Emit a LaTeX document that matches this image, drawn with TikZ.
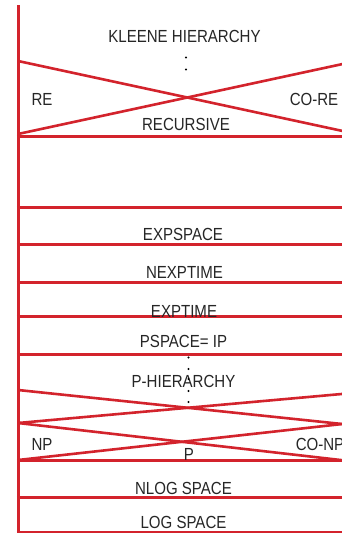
\documentclass[tikz,border=0pt]{standalone}
\usepackage{fontspec}
\setmainfont{Liberation Sans}[FakeStretch=0.86]
\definecolor{hred}{RGB}{211,35,44}
\definecolor{htext}{RGB}{38,38,38}
\begin{document}
\begin{tikzpicture}[x=1pt,y=-1pt,
  redline/.style={draw=hred,line width=3pt},
  thinred/.style={draw=hred,line width=2.6pt},
  lbl/.style={inner sep=0pt,anchor=base,text=htext,font=\fontsize{17.5}{20}\selectfont},
  dot/.style={circle,fill=black,inner sep=0pt,minimum size=2.3pt}]
\useasboundingbox (0,0) rectangle (342,533);
\fill[white] (0,0) rectangle (342,533);
% vertical spine
\draw[redline] (18.3,5) -- (18.3,535);
% horizontal boundaries
\foreach \yy in {136,207.5,244,282,316,354,460.5,497,532}
  \draw[redline] (16.8,\yy) -- (345,\yy);
% upper X (RE / CO-RE)
\draw[thinred] (18,61) -- (345,131.5);
\draw[thinred] (18,134) -- (345,63.5);
% lower X's (NP / CO-NP)
\draw[thinred] (18,390) -- (345,424.3);
\draw[thinred] (18,423) -- (345,393.7);
\draw[thinred] (18,423) -- (345,460.5);
\draw[thinred] (18,460) -- (345,423.7);
% labels
\node[lbl] (kleene) at (184.5,42) {KLEENE HIERARCHY};
\node[dot] (d1) at (186,57.5) {};
\node[dot] (d2) at (186,69.5) {};
\node[lbl] (re) at (42,105) {RE};
\node[lbl] (core) at (314,105) {CO-RE};
\node[lbl] (rec) at (186,130) {RECURSIVE};
\node[lbl] (expspace) at (183,240) {EXPSPACE};
\node[lbl] (nexptime) at (184.5,278) {NEXPTIME};
\node[lbl] (exptime) at (184,317) {EXPTIME};
\node[lbl] (pspace) at (183.5,347) {PSPACE= IP};
\node[lbl] (ph) at (183.5,387) {P-HIERARCHY};
\node[dot] (e1) at (188.5,357.5) {};
\node[dot] (e2) at (188.5,369) {};
\node[dot] (e3) at (188.5,379) {};
\node[dot] (e4) at (188.5,391) {};
\node[dot] (e5) at (188.5,402) {};
\node[lbl] (np) at (42,450) {NP};
\node[lbl] (conp) at (320,450) {CO-NP};
\node[lbl] (p) at (189,460) {P};
\node[lbl] (nlog) at (183.5,494) {NLOG SPACE};
\node[lbl] (log) at (183.5,528) {LOG SPACE};
\end{tikzpicture}
\end{document}
